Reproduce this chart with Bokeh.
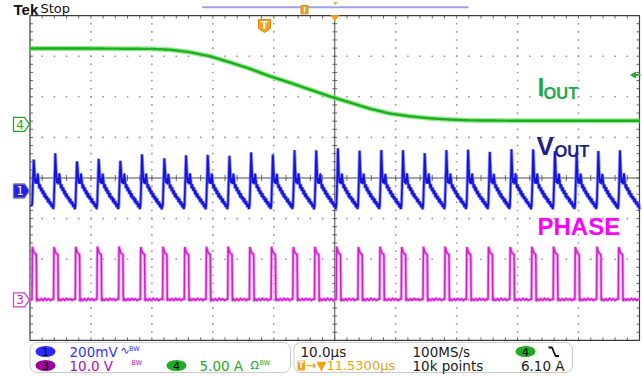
import numpy as np
from bokeh.plotting import figure
from bokeh.models import Range1d, BoxAnnotation
from bokeh.core.properties import value
from bokeh.embed import file_html
from bokeh.resources import INLINE

# ---------------- values ----------------
# switching edges of the PHASE node, in us from the left graticule edge (10 us/div)
pulse_times_us = [0.36, 3.90, 7.46, 11.02, 14.57, 18.13, 21.79, 25.35, 28.91, 32.47,
                  36.03, 39.59, 43.15, 46.71, 50.27, 53.83, 57.39, 60.95, 64.51, 68.07,
                  71.63, 75.19, 78.75, 82.31, 85.87, 89.43, 92.99, 96.55]
# Vout spike height after each edge (mV, relative to ch1 ground marker)
vout_peak_mv = [161, 186, 151, 161, 151, 186, 166, 176, 186, 176, 196, 186, 200, 210,
                215, 205, 210, 200, 195, 205, 210, 200, 205, 215, 200, 195, 205, 200]
# Vout shape following each edge (us after edge, mV); None = the spike peak
vout_shape_us = [0.00, 0.13, 0.25, 0.38, 0.49, 0.62, 0.75, 0.90, 1.03, 1.15, 1.28, 1.43,
                 1.56, 1.71, 1.84, 1.99, 2.13, 2.28, 2.43, 2.58, 2.72, 2.87, 3.02, 3.17,
                 3.31, 3.45]
vout_shape_mv = [-70, 53, None, 102, 38, 63, 33, 87, 53, 13, 33, -1,
                 18, -16, 3, -31, -11, -41, -26, -56, -36, -66, -51, -80,
                 -61, -90]
vout_start_mv = -72
# PHASE pulse shape (us after edge, V)
phase_shape_us = [-0.03, 0.03, 0.20, 0.35, 0.55, 0.68, 0.74, 0.90, 1.20, 1.50,
                  1.80, 2.10, 2.40, 2.70, 3.00, 3.30]
phase_shape_v = [0.0, 13.1, 12.2, 11.5, 11.3, 11.2, -0.4, 0.3, -0.2, 0.3,
                 -0.2, 0.4, -0.1, 0.3, -0.2, 0.2]
# I_OUT load step (us, A)
iout_us = [0, 10, 20, 23, 26.2, 29.5, 32.8, 36.1, 39.3, 42.6, 45.9, 49.2, 52.5,
           55.7, 59.0, 62.3, 65.6, 68.9, 72.1, 80, 90, 100]
iout_a = [9.35, 9.35, 9.3, 9.2, 8.9, 8.4, 7.65, 6.85, 5.95, 5.15, 4.3, 3.45, 2.7,
          1.95, 1.35, 1.0, 0.75, 0.6, 0.5, 0.45, 0.45, 0.45]

# channel settings (readout)
ch1_scale_mv, ch1_pos_div = 200.0, -0.32
ch3_scale_v, ch3_pos_div = 10.0, -3.0
ch4_scale_a, ch4_pos_div = 5.0, 1.32
trig_delay_us = 11.53
trig_level_a = 6.10

# ---------------- build traces ----------------
t_grid = np.linspace(0, 100, 4001)
vt, vv = [0.0], [vout_start_mv]
for tp, pk in zip(pulse_times_us, vout_peak_mv):
    for ds, mv in zip(vout_shape_us, vout_shape_mv):
        vt.append(tp + ds)
        vv.append(pk if mv is None else mv)
vout = np.interp(t_grid, vt, vv)

pt, pv = [0.0], [0.0]
for tp in pulse_times_us:
    for ds, v in zip(phase_shape_us, phase_shape_v):
        pt.append(tp + ds)
        pv.append(v)
phase = np.interp(t_grid, pt, pv)
iout = np.interp(t_grid, iout_us, iout_a)

# ---------------- layout helpers (screen position -> graticule units) ----------------
def tx(X):
    return (X - 29.5) / 6.095

def dv(Y):
    return (177.5 - Y) / 40.6

ylo, yhi = dv(376), dv(0)
p = figure(width=642, height=376, x_range=Range1d(tx(0), tx(642)), y_range=Range1d(ylo, yhi),
           output_backend="svg", toolbar_location=None, x_axis_type=None, y_axis_type=None,
           min_border=0, outline_line_color=None, background_fill_color="white",
           border_fill_color="white")
p.extra_y_ranges = {
    "ch4": Range1d(ch4_scale_a * (ylo - ch4_pos_div), ch4_scale_a * (yhi - ch4_pos_div)),
    "ch1": Range1d(ch1_scale_mv * (ylo - ch1_pos_div), ch1_scale_mv * (yhi - ch1_pos_div)),
    "ch3": Range1d(ch3_scale_v * (ylo - ch3_pos_div), ch3_scale_v * (yhi - ch3_pos_div)),
}

# graticule dots
gx, gy = [], []
for k in range(1, 10):
    if k == 5:
        continue
    for j in range(1, 40):
        gx.append(10 * k); gy.append(-4 + 0.2 * j)
for k in range(-3, 4):
    if k == 0:
        continue
    for j in range(1, 50):
        gx.append(2 * j); gy.append(k)
p.scatter(gx, gy, marker="square", size=1.6, fill_color="#9a9a9a", line_color=None)

# edge and centre ticks
tdy = 0.075
tdx = 0.5
sx0, sy0, sx1, sy1 = [], [], [], []
for j in range(1, 50):
    x = 2 * j
    sx0 += [x, x, x]; sx1 += [x, x, x]
    sy0 += [4, -4, -tdy]; sy1 += [4 - tdy, -4 + tdy, tdy]
for j in range(1, 40):
    y = -4 + 0.2 * j
    sx0 += [0, 100, 50 - tdx * 0.8]; sx1 += [tdx, 100 - tdx, 50 + tdx * 0.8]
    sy0 += [y, y, y]; sy1 += [y, y, y]
p.segment(sx0, sy0, sx1, sy1, line_color="#6a6a6a", line_width=1)
p.segment([50, 0], [-4, 0], [50, 100], [4, 0], line_color="#4a4a4a", line_width=1)
p.quad(left=[0], right=[100], bottom=[-4], top=[4], fill_color=None,
       line_color="#3a3a3a", line_width=1.2)

# traces
p.line(t_grid, phase, y_range_name="ch3", line_color="#f090f0", line_width=3.2, line_alpha=0.8)
p.line(t_grid, phase, y_range_name="ch3", line_color="#d41cd4", line_width=1.5)
p.line(t_grid, vout, y_range_name="ch1", line_color="#8080ff", line_width=3.4, line_alpha=0.8)
p.line(t_grid, vout, y_range_name="ch1", line_color="#1414e0", line_width=1.7)
p.line(t_grid, iout, y_range_name="ch4", line_color="#80e080", line_width=5, line_alpha=0.8)
p.line(t_grid, iout, y_range_name="ch4", line_color="#18b018", line_width=2.4)


def txt(X, Y, s, color, size, font="DejaVu Sans", style="normal", align="left",
        baseline="middle"):
    p.text(x=[tx(X)], y=[dv(Y)], text=[s], text_color=color, text_font=value(font),
           text_font_size=value(f"{size}px"), text_font_style=style, text_align=align,
           text_baseline=baseline)

# trace labels (Y = centre of the capitals)
txt(537, 86, "I", "#1ea84a", 25, "Liberation Sans", "bold")
txt(543, 92, "OUT", "#1ea84a", 16.5, "Liberation Sans", "bold")
txt(536, 145.5, "V", "#1f1f8c", 26, "Liberation Sans", "bold")
txt(554, 150, "OUT", "#1f1f8c", 16.5, "Liberation Sans", "bold")
txt(537, 225.5, "PHASE", "#ff00ff", 24, "Liberation Sans", "bold")

# channel ground markers on the left
def marker(yc_div, fill, line, label, lcol):
    X0, X1, X2 = 13, 24, 29
    h = 7 / 40.6
    xs = [tx(X0), tx(X1), tx(X2), tx(X1), tx(X0)]
    ys = [yc_div + h, yc_div + h, yc_div, yc_div - h, yc_div - h]
    p.patch(xs, ys, fill_color=fill, line_color=line, line_width=1.3)
    p.text(x=[tx(19.5)], y=[yc_div], text=[label], text_color=lcol,
           text_font=value("DejaVu Sans"), text_font_size=value("12px"),
           text_align="center", text_baseline="middle")

marker(ch4_pos_div, "white", "#22aa22", "4", "#22aa22")
marker(ch1_pos_div, "#2020f0", "#7a7a9a", "1", "white")
marker(ch3_pos_div, "white", "#cc44cc", "3", "#cc22cc")

# trigger level arrow (right)
lvl = ch4_pos_div + trig_level_a / ch4_scale_a
p.segment([tx(633)], [lvl], [tx(640)], [lvl], line_color="#22aa22", line_width=1.6)
p.scatter([tx(633.5)], [lvl], marker="triangle", angle=np.pi / 2, size=7,
          fill_color="#22aa22", line_color=None)

# trigger position tab
t_trig = 50 - trig_delay_us
hw = 6 / 6.095
p.patch([t_trig - hw, t_trig + hw, t_trig + hw, t_trig, t_trig - hw],
        [dv(19), dv(19), dv(28), dv(32), dv(28)], fill_color="#f5a020", line_color="#e08a00")
p.text(x=[t_trig], y=[dv(24.5)], text=["T"], text_color="white",
       text_font=value("DejaVu Sans"), text_font_size=value("10px"), text_font_style="bold",
       text_align="center", text_baseline="middle")
# centre (expansion point) marker
p.patch([tx(330.5), tx(338.5), 50.0], [dv(15.2), dv(15.2), dv(20)], fill_color="#f5a020",
        line_color="#f5a020")

# record view bar above graticule
p.segment([tx(201.7)], [dv(6.7)], [tx(468)], [dv(6.7)], line_color="#9da0ee", line_width=2)
p.quad(left=[tx(300.5)], right=[tx(307.5)], bottom=[dv(13.3)], top=[dv(5)],
       fill_color="#f5a020", line_color="#e08a00")
p.segment([tx(304)], [dv(6.5)], [tx(304)], [dv(12)], line_color="white", line_width=1.2)
p.patch([tx(332.5), tx(337.5), tx(335)], [dv(1.7), dv(1.7), dv(4.5)], fill_color="#f5a020",
        line_color=None)

txt(13, 8.8, "Tek", "#111111", 15, "Liberation Sans", "bold")
txt(40, 7.5, "Stop", "#111111", 13, "DejaVu Sans")

# readout boxes
for l, r in [(29.6, 290), (293.5, 572)]:
    p.add_layout(BoxAnnotation(left=tx(l), right=tx(r), top=dv(342), bottom=dv(372),
                               fill_color=None, line_color="#505050", line_width=1,
                               border_radius=7))

def oval(X, Y, fill, label):
    p.ellipse(x=[tx(X)], y=[dv(Y)], width=20, height=11, width_units="screen",
              height_units="screen", fill_color=fill, line_color=None)
    p.text(x=[tx(X)], y=[dv(Y)], text=[label], text_color="black",
           text_font=value("DejaVu Sans"), text_font_size=value("11px"),
           text_align="center", text_baseline="middle")

FS = 13.5
R1, R2 = 351, 365
oval(45, R1, "#2a2aff", "1")
txt(69, R1, "200mV", "#3535ff", FS)
txt(120, R1 - 1, "∿", "#3535ff", 11)
txt(128.5, R1 - 3, "BW", "#3535ff", 6.5)
oval(45, R2, "#a000a0", "3")
txt(69, R2, "10.0 V", "#b010b0", FS)
txt(131, R2 - 3, "BW", "#b010b0", 6.5)
oval(176, R2, "#22aa22", "4")
txt(199, R2, "5.00 A", "#22aa22", FS)
txt(250, R2, "Ω", "#22aa22", 11)
txt(259, R2 - 3, "BW", "#22aa22", 6.5)

txt(300, R1, "10.0µs", "#1a1a1a", FS)
txt(412, R1, "100MS/s", "#1a1a1a", FS)
oval(525, R1, "#22aa22", "4")
p.line([tx(548), tx(551.5), tx(555), tx(558.5)], [dv(347), dv(347), dv(355.5), dv(355.5)],
       line_color="#111111", line_width=1.8)
p.quad(left=[tx(297)], right=[tx(304.5)], bottom=[dv(370)], top=[dv(360)],
       fill_color="#f5a020", line_color=None)
txt(300.75, R2, "T", "white", 8, "DejaVu Sans", "bold", align="center")
txt(305, R2, "→▼" + f"{trig_delay_us:.4f}µs", "#f0a010", FS - 0.5)
txt(412, R2, "10k points", "#1a1a1a", FS)
txt(564, R2, f"{trig_level_a:.2f} A", "#1a1a1a", FS, align="right")

open("out.html", "w").write(file_html(p, INLINE))
